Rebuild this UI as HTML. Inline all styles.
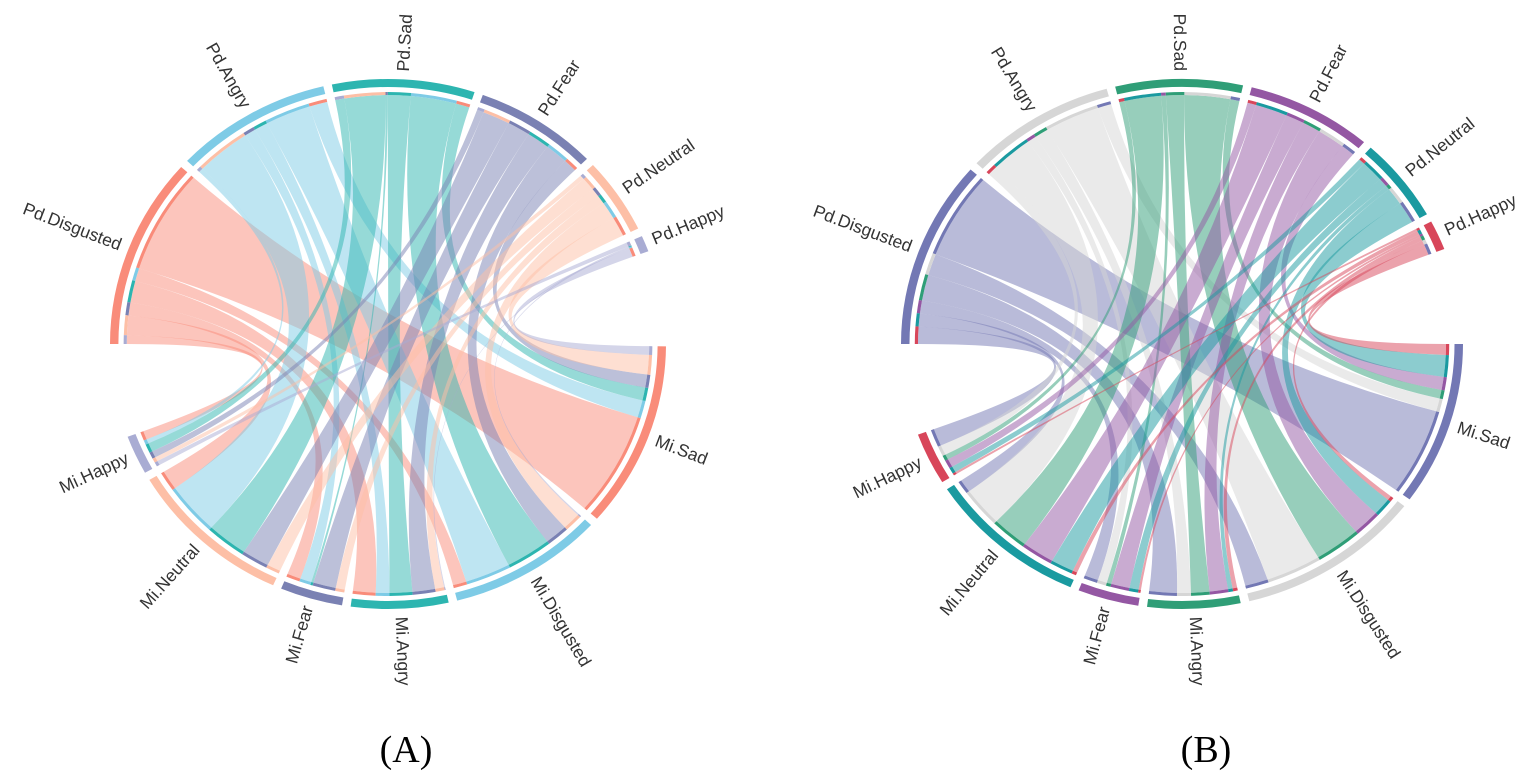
<!DOCTYPE html>
<html><head><meta charset="utf-8"><style>
body{margin:0;background:#fff;}
svg{display:block;}
text{font-family:"Liberation Sans",sans-serif;}
</style></head><body>
<svg id="svg" width="1535" height="783" viewBox="0 0 1535 783" xmlns="http://www.w3.org/2000/svg">
<text x="406" y="762" font-size="38" text-anchor="middle" style="font-family:'Liberation Serif',serif">(A)</text>
<text x="1206" y="762" font-size="38" text-anchor="middle" style="font-family:'Liberation Serif',serif">(B)</text>
</svg>
<script>
const pdNames = ["Pd.Disgusted","Pd.Angry","Pd.Sad","Pd.Fear","Pd.Neutral","Pd.Happy"];
const miNames = ["Mi.Sad","Mi.Disgusted","Mi.Angry","Mi.Fear","Mi.Neutral","Mi.Happy"];
// rows: Pd, cols: Mi (Sad, Disgusted, Angry, Fear, Neutral, Happy)
const flowsA = [
  [24,3,5,3,4.5,2],
  [4,10,3,2.5,12,1],
  [3,10,5,0.5,9,2],
  [3,5,5,5,6,1.5],
  [4.5,4,2,2,3,1],
  [2,0.3,0.2,0,0,1]
];
const flowsB = [
  [20,5,6,3,3,4],
  [3,12,3,2,9,2.3],
  [2,10,4,1,8,1.2],
  [3,6,4,4,7,1.9],
  [5,4,1,2,5,1.4],
  [2.5,1,1,0.5,1,0.5]
];
const colorsA = ["#f98c7a","#7ecbe6","#2db5b0","#7a81b3","#fdbfa6","#a9acd3"];
const colorsB = ["#7378b4","#d6d6d6","#2f9e77","#9457a3","#1a9aa0","#d8465a"];

const svg = document.getElementById('svg');
const NS = "http://www.w3.org/2000/svg";
function pt(r,a){const t=a*Math.PI/180;return [r*Math.sin(t),-r*Math.cos(t)];}
function arcPath(r0,r1,a0,a1){
  const p0=pt(r1,a0),p1=pt(r1,a1),p2=pt(r0,a1),p3=pt(r0,a0);
  const lg=(a1-a0)>180?1:0;
  return `M${p0}A${r1},${r1} 0 ${lg} 1 ${p1}L${p2}A${r0},${r0} 0 ${lg} 0 ${p3}Z`;
}
function drawChart(id,cx,cy,sx,flows,colors,pdRange,miRange){
  const outer=document.createElementNS(NS,'g');
  
  
  svg.appendChild(outer);
  const g=document.createElementNS(NS,'g');
  g.setAttribute('transform',`translate(${cx},${cy}) scale(${sx},1)`);
  
  
  outer.appendChild(g);
  const R0=257, R1=265, RR=249, gap=1.8;
  const n=6;
  const pdSum=flows.map(r=>r.reduce((a,b)=>a+b,0));
  const miSum=miNames.map((_,j)=>flows.reduce((a,r)=>a+r[j],0));
  const pdTot=pdSum.reduce((a,b)=>a+b,0), miTot=miSum.reduce((a,b)=>a+b,0);
  const pdK=(pdRange[1]-pdRange[0]-gap*(n-1))/pdTot;
  const miK=(miRange[1]-miRange[0]-gap*(n-1))/miTot;
  const pdStart=[],miStart=[];
  let a=pdRange[0];
  for(let i=0;i<n;i++){pdStart.push(a);a+=pdSum[i]*pdK+gap;}
  a=miRange[0];
  for(let j=0;j<n;j++){miStart.push(a);a+=miSum[j]*miK+gap;}
  const pdSub={},miSub={};
  for(let i=0;i<n;i++){let s=pdStart[i];for(let j=n-1;j>=0;j--){const w=flows[i][j]*pdK;pdSub[i+'_'+j]=[s,s+w];s+=w;}}
  for(let j=0;j<n;j++){let s=miStart[j];for(let i=n-1;i>=0;i--){const w=flows[i][j]*miK;miSub[i+'_'+j]=[s,s+w];s+=w;}}
  for(let i=0;i<n;i++)for(let j=0;j<n;j++){
    if(flows[i][j]<=0)continue;
    const [a0,a1]=pdSub[i+'_'+j],[b0,b1]=miSub[i+'_'+j];
    const p0=pt(RR,a0),p1=pt(RR,a1),q0=pt(RR,b0),q1=pt(RR,b1);
    const d=`M${p0}A${RR},${RR} 0 0 1 ${p1}Q0,0 ${q0}A${RR},${RR} 0 0 1 ${q1}Q0,0 ${p0}Z`;
    const path=document.createElementNS(NS,'path');
    path.setAttribute('d',d);path.setAttribute('fill',colors[i]);path.setAttribute('fill-opacity','0.5');
    
    
    g.appendChild(path);
    const s1=document.createElementNS(NS,'path');
    s1.setAttribute('d',arcPath(RR,RR+3,a0,a1));s1.setAttribute('fill',colors[j]);
    
    
    g.appendChild(s1);
    const s2=document.createElementNS(NS,'path');
    s2.setAttribute('d',arcPath(RR,RR+3,b0,b1));s2.setAttribute('fill',colors[i]);
    
    
    g.appendChild(s2);
  }
  function seg(name,start,span,color){
    const p=document.createElementNS(NS,'path');
    p.setAttribute('d',arcPath(R0,R1,start,start+span));p.setAttribute('fill',color);
    
    
    g.appendChild(p);
    const mid=((start+span/2)%360+360)%360;
    const q=pt(R1+8,mid);
    const x=cx+q[0]*sx, y=cy+q[1];
    const t=document.createElementNS(NS,'text');
    t.textContent=name;t.setAttribute('font-size','17.5');t.setAttribute('fill','#333');
    t.setAttribute('dominant-baseline','middle');
    let rot,anchor;
    if(mid<180){rot=mid-90;anchor='start';}else{rot=mid+90;anchor='end';}
    t.setAttribute('text-anchor',anchor);
    t.setAttribute('transform',`translate(${x},${y}) rotate(${rot})`);
    
    
    outer.appendChild(t);
  }
  for(let i=0;i<n;i++)seg(pdNames[i],pdStart[i],pdSum[i]*pdK,colors[i]);
  for(let j=0;j<n;j++)seg(miNames[j],miStart[j],miSum[j]*miK,colors[j]);
}
drawChart('chord-a',388,344,278/265,flowsA,colorsA,[270,429.5],[90.5,249.5]);
drawChart('chord-b',1182,344,281/265,flowsB,colorsB,[270,429],[90,250]);
</script>
</body></html>
